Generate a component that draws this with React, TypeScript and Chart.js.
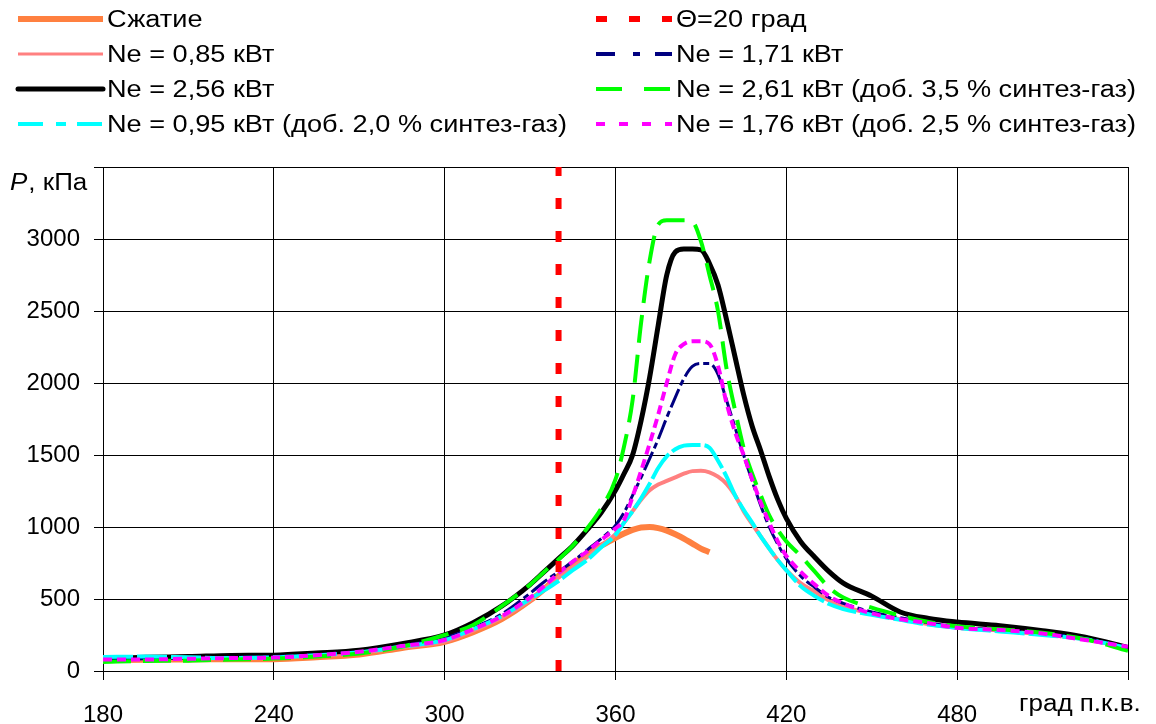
import React, { useEffect, useRef } from "react";
import { Chart, registerables } from "chart.js";

Chart.register(...registerables);

const FONT = '"Liberation Sans", Arial, sans-serif';
const TEXT_STRETCH = 1.18;

// Crank angle, degrees
const ANGLES = [180, 195, 210, 225, 240, 255, 270, 285, 300, 310, 320, 330, 335, 340, 345, 350, 355, 360, 363, 366, 369, 372, 375, 378, 381, 384, 387, 390, 393, 396, 399, 402, 405, 408, 411, 414, 417, 420, 425, 430, 435, 440, 450, 460, 470, 480, 495, 510, 525, 540];

// Pressure, kPa
const COMPRESSION = [75, 78, 80, 82, 82, 95, 115, 160, 203, 270, 360, 490, 570, 660, 740, 815, 870, 925, 955, 980, 997, 1000, 992, 975, 950, 920, 885, 850, 825, null, null, null, null, null, null, null, null, null, null, null, null, null, null, null, null, null, null, null, null, null];
const NE_085 = [85, 85, 88, 90, 95, 108, 125, 165, 205, 280, 370, 490, 570, 650, 720, 790, 870, 950, 1030, 1110, 1190, 1255, 1295, 1320, 1345, 1370, 1388, 1390, 1380, 1350, 1300, 1220, 1110, 1020, 935, 850, 770, 700, 610, 550, 490, 450, 395, 360, 325, 300, 280, 255, 220, 160];
const NE_256 = [86, 95, 100, 108, 110, 125, 145, 190, 250, 335, 450, 600, 690, 780, 870, 980, 1100, 1255, 1370, 1500, 1740, 2040, 2400, 2750, 2910, 2930, 2930, 2925, 2830, 2680, 2440, 2180, 1920, 1700, 1530, 1350, 1190, 1060, 900, 790, 690, 610, 520, 410, 365, 340, 315, 280, 235, 162];
const NE_095 = [98, 100, 95, 90, 95, 110, 130, 170, 215, 290, 380, 500, 560, 625, 700, 770, 860, 945, 1030, 1110, 1200, 1300, 1410, 1490, 1540, 1565, 1570, 1570, 1550, 1460, 1350, 1220, 1120, 1030, 935, 850, 770, 700, 590, 520, 465, 430, 390, 355, 322, 300, 275, 250, 220, 160];
const NE_171 = [80, 85, 90, 95, 100, 112, 130, 175, 230, 300, 395, 540, 620, 690, 760, 840, 920, 1010, 1100, 1220, 1345, 1475, 1610, 1760, 1900, 2030, 2115, 2135, 2135, 2060, 1880, 1690, 1500, 1320, 1150, 1000, 880, 780, 660, 580, 510, 470, 410, 370, 335, 305, 285, 260, 225, 160];
const NE_261 = [63, 70, 72, 80, 86, 100, 121, 170, 250, 320, 450, 600, 690, 775, 870, 990, 1130, 1330, 1560, 1880, 2420, 2850, 3100, 3130, 3130, 3130, 3120, 2985, 2750, 2500, 2100, 1810, 1550, 1370, 1220, 1080, 980, 900, 800, 690, 580, 510, 440, 385, 340, 310, 290, 265, 220, 140];
const NE_176 = [79, 80, 85, 90, 93, 110, 133, 173, 215, 290, 380, 510, 590, 680, 760, 830, 910, 990, 1050, 1210, 1390, 1580, 1780, 2000, 2200, 2270, 2290, 2290, 2270, 2120, 1860, 1660, 1500, 1330, 1170, 1030, 900, 800, 690, 600, 520, 470, 400, 360, 332, 300, 285, 260, 215, 168];

const THETA_ANGLE = 340;
const Y_MIN = 0;
const Y_MAX = 3500;
const Y_STEP = 500;
const X_MIN = 180;
const X_MAX = 540;
const X_STEP = 60;

const LABELS = {
  compression: "Сжатие",
  theta: "Θ=20 град",
  ne085: "Ne = 0,85 кВт",
  ne171: "Ne = 1,71 кВт",
  ne256: "Ne = 2,56 кВт",
  ne261: "Ne = 2,61 кВт (доб. 3,5 % синтез-газ)",
  ne095: "Ne = 0,95 кВт (доб. 2,0 % синтез-газ)",
  ne176: "Ne = 1,76 кВт (доб. 2,5 % синтез-газ)",
};
const Y_TITLE_ITALIC = "P";
const Y_TITLE_REST = ", кПа";
const X_TITLE = "град п.к.в.";

type LegendItem = { label: string; color: string; width: number; dash: number[]; cap: CanvasLineCap; col: number; row: number };

const LEGEND: LegendItem[] = [
  { label: LABELS.compression, color: "#FF8040", width: 6, dash: [], cap: "butt", col: 0, row: 0 },
  { label: LABELS.ne085, color: "#FF8080", width: 3, dash: [], cap: "butt", col: 0, row: 1 },
  { label: LABELS.ne256, color: "#000000", width: 5, dash: [], cap: "round", col: 0, row: 2 },
  { label: LABELS.ne095, color: "#00FFFF", width: 4, dash: [25, 13, 10, 11], cap: "butt", col: 0, row: 3 },
  { label: LABELS.theta, color: "#FF0000", width: 6, dash: [11, 22], cap: "butt", col: 1, row: 0 },
  { label: LABELS.ne171, color: "#000080", width: 4, dash: [19, 18, 7, 15], cap: "butt", col: 1, row: 1 },
  { label: LABELS.ne261, color: "#00FF00", width: 4, dash: [26, 22], cap: "butt", col: 1, row: 2 },
  { label: LABELS.ne176, color: "#FF00FF", width: 4, dash: [9, 14], cap: "butt", col: 1, row: 3 },
];
const LEGEND_COLS = [
  { x0: 18, x1: 103, tx: 107 },
  { x0: 596, x1: 672, tx: 676 },
];
const LEGEND_ROWS = [19, 54, 89, 124];

function drawText(ctx: CanvasRenderingContext2D, text: string, x: number, y: number, size: number, italic = false, stretch = TEXT_STRETCH) {
  ctx.save();
  ctx.translate(x, y);
  ctx.scale(stretch, 1);
  ctx.font = `${italic ? "italic " : ""}${size}px ${FONT}`;
  ctx.fillStyle = "#000";
  ctx.textBaseline = "alphabetic";
  ctx.textAlign = "left";
  ctx.fillText(text, 0, 0);
  const w = ctx.measureText(text).width * stretch;
  ctx.restore();
  return w;
}

const decorPlugin = {
  id: "decor",
  afterDraw(chart: any) {
    const ctx: CanvasRenderingContext2D = chart.ctx;
    ctx.save();
    LEGEND.forEach((it) => {
      const c = LEGEND_COLS[it.col];
      const y = LEGEND_ROWS[it.row];
      ctx.save();
      ctx.beginPath();
      ctx.strokeStyle = it.color;
      ctx.lineWidth = it.width;
      ctx.lineCap = it.cap;
      ctx.setLineDash(it.dash);
      ctx.moveTo(c.x0, y);
      ctx.lineTo(c.x1, y);
      ctx.stroke();
      ctx.restore();
      drawText(ctx, it.label, c.tx, y + 8, 23);
    });
    // axis titles
    const w = drawText(ctx, Y_TITLE_ITALIC, 10, 190, 23, true, 1.13);
    drawText(ctx, Y_TITLE_REST, 10 + w + 1, 190, 23, false, 1.13);
    drawText(ctx, X_TITLE, 1019, 711, 23, false, 1.13);
    ctx.restore();
  },
};

export default function App() {
  const ref = useRef<HTMLCanvasElement>(null);
  useEffect(() => {
    const pts = (arr: (number | null)[]) =>
      ANGLES.map((x, i) => ({ x, y: arr[i] })).filter((p) => p.y !== null);
    const line = (label: string, data: (number | null)[], color: string, width: number, dash: number[], order: number) => ({
      label,
      data: pts(data),
      borderColor: color,
      backgroundColor: color,
      borderWidth: width,
      borderDash: dash,
      pointRadius: 0,
      fill: false,
      cubicInterpolationMode: "monotone" as const,
      order,
    });
    const chart = new Chart(ref.current as HTMLCanvasElement, {
      type: "line",
      data: {
        datasets: [
          line(LABELS.compression, COMPRESSION, "#FF8040", 6, [], 7),
          line(LABELS.ne085, NE_085, "#FF8080", 4, [], 6),
          line(LABELS.ne256, NE_256, "#000000", 5, [], 5),
          line(LABELS.ne171, NE_171, "#000080", 3, [20, 4, 6, 4], 4),
          line(LABELS.ne095, NE_095, "#00FFFF", 4, [30, 4], 3),
          line(LABELS.ne261, NE_261, "#00FF00", 4, [28, 12], 2),
          line(LABELS.ne176, NE_176, "#FF00FF", 4, [9, 5], 1),
          {
            label: LABELS.theta,
            data: [
              { x: THETA_ANGLE, y: Y_MIN },
              { x: THETA_ANGLE, y: Y_MAX },
            ],
            borderColor: "#FF0000",
            backgroundColor: "#FF0000",
            borderWidth: 6,
            borderDash: [11, 22],
            pointRadius: 0,
            fill: false,
            order: 0,
          },
        ],
      },
      options: {
        responsive: false,
        animation: false,
        events: [],
        layout: { padding: { top: 167, right: 28, left: 0, bottom: 0 } },
        plugins: { legend: { display: false }, tooltip: { enabled: false }, title: { display: false } },
        scales: {
          x: {
            type: "linear",
            min: X_MIN,
            max: X_MAX,
            ticks: {
              stepSize: X_STEP,
              autoSkip: false,
              maxRotation: 0,
              padding: 21,
              color: "#000",
              font: { family: FONT, size: 24 },
              callback: (v: any) => (v === X_MAX ? "" : String(v)),
            },
            grid: { color: "#000", lineWidth: 1, tickLength: 9, tickColor: "#000" },
            border: { color: "#000", width: 1 },
            afterFit: (s: any) => {
              s.height = 53;
            },
          },
          y: {
            type: "linear",
            min: Y_MIN,
            max: Y_MAX,
            ticks: {
              stepSize: Y_STEP,
              padding: 14,
              color: "#000",
              font: { family: FONT, size: 24 },
              callback: (v: any) => (v === Y_MAX ? "" : String(v)),
            },
            grid: { color: "#000", lineWidth: 1, tickLength: 9, tickColor: "#000" },
            border: { color: "#000", width: 1 },
            afterFit: (s: any) => {
              s.width = 103;
            },
          },
        },
      },
      plugins: [decorPlugin],
    } as any);
    return () => chart.destroy();
  }, []);
  return (
    <div style={{ position: "fixed", left: 0, top: 0, width: 1156, height: 724, background: "#fff" }}>
      <canvas ref={ref} width={1156} height={724} style={{ display: "block" }} />
    </div>
  );
}
